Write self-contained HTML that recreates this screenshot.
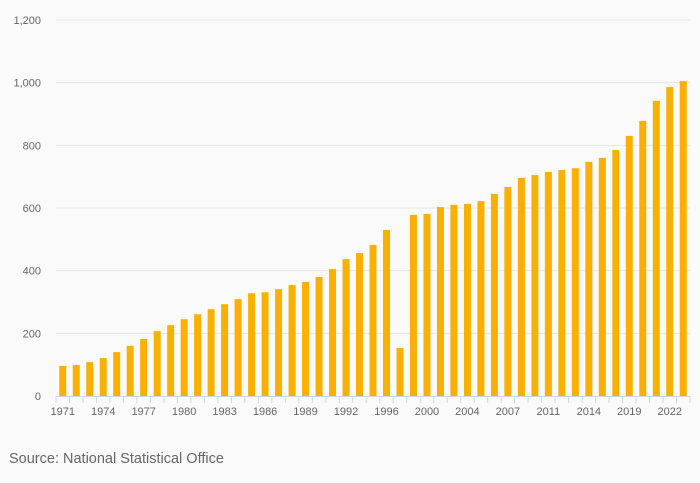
<!DOCTYPE html>
<html><head><meta charset="utf-8"><style>
html,body{margin:0;padding:0;background:#fafafa;}
svg{display:block;font-family:"Liberation Sans",sans-serif;}
</style></head><body>
<svg id="chart" width="700" height="483"></svg>
<script>
const categories=["1971","1972","1973","1974","1975","1976","1977","1978","1979","1980","1981","1982","1983","1984","1985","1986","1987","1988","1989","1990","1991","1992","1993","1994","1996","1997","1999","2000","2001","2002","2004","2005","2006","2007","2008","2010","2011","2012","2013","2014","2016","2017","2019","2020","2021","2022","2023"];
const values=[96,99,108,121,140,160,182,207,226,245,261,277,293,309,328,331,341,354,364,380,405,437,456,482,530,153,578,581,603,610,613,622,645,667,696,705,715,721,727,747,760,785,830,878,942,986,1005];
const shownLabels=["1971","1974","1977","1980","1983","1986","1989","1992","1996","2000","2004","2007","2011","2014","2019","2022"];
const yTicks=[0,200,400,600,800,1000,1200];
const NS="http://www.w3.org/2000/svg";
const svg=document.getElementById('chart');
const x0=56,x1=690,y0=396,yTop=20,yMax=1200;
const step=(x1-x0)/categories.length;
function xs(i){return x0+step*(i+0.5);}
function ys(v){return y0-(v/yMax)*(y0-yTop);}
function mk(t,a){const e=document.createElementNS(NS,t);for(const k in a)e.setAttribute(k,a[k]);svg.appendChild(e);return e;}
yTicks.forEach(v=>{
  if(v>0){const g=mk('line',{x1:x0,x2:x1,y1:ys(v),y2:ys(v),stroke:'#e6e6e6','stroke-width':1});
  
  }
  const t=mk('text',{x:41,y:ys(v)+4,'text-anchor':'end','font-size':11,fill:'#666'});
  t.textContent=v.toLocaleString('en-US');
  
  
});
values.forEach((v,i)=>{
  const r=mk('rect',{x:xs(i)-3.5,y:ys(v),width:7,height:y0-ys(v),fill:'#f9b000'});
  
  
});
const ax=mk('line',{x1:x0,x2:x1,y1:y0+0.5,y2:y0+0.5,stroke:'#ccd6eb','stroke-width':1});


for(let i=0;i<=categories.length;i++){
  const tk=mk('line',{x1:x0+step*i,x2:x0+step*i,y1:y0,y2:y0+7,stroke:'#ccd6eb','stroke-width':1});
  
  
}
categories.forEach((c,i)=>{
  if(shownLabels.indexOf(c)<0)return;
  const t=mk('text',{x:xs(i),y:415,'text-anchor':'middle','font-size':11,fill:'#666'});
  t.textContent=c;
  
  
});
const s=mk('text',{x:9,y:463,'font-size':14.5,fill:'#666'});
s.textContent='Source: National Statistical Office';


</script>
</body></html>
